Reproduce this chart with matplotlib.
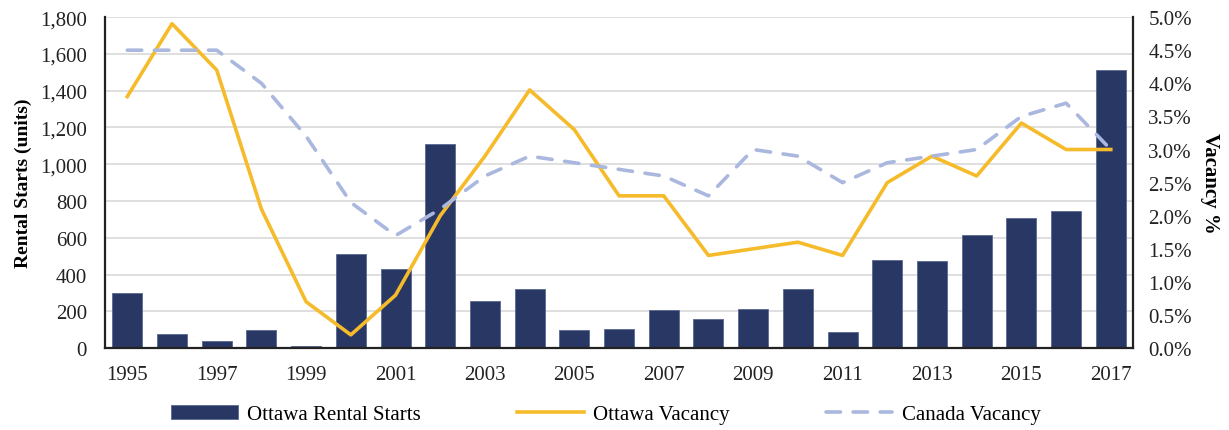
import numpy as np
import matplotlib.pyplot as plt
from matplotlib.ticker import FuncFormatter, MultipleLocator

plt.rcParams['font.family'] = ['Liberation Serif', 'DejaVu Serif']

# data
years = list(range(1995, 2018))
rental_starts = [300, 75, 40, 100, 10, 510, 430, 1110, 255, 320, 100, 105,
                 205, 160, 215, 320, 90, 480, 475, 615, 705, 745, 1510]
ottawa_vacancy = [3.8, 4.9, 4.2, 2.1, 0.7, 0.2, 0.8, 2.0, 2.9, 3.9, 3.3, 2.3,
                  2.3, 1.4, 1.5, 1.6, 1.4, 2.5, 2.9, 2.6, 3.4, 3.0, 3.0]
canada_vacancy = [4.5, 4.5, 4.5, 4.0, 3.2, 2.2, 1.7, 2.1, 2.6, 2.9, 2.8, 2.7,
                  2.6, 2.3, 3.0, 2.9, 2.5, 2.8, 2.9, 3.0, 3.5, 3.7, 3.0]
year_ticks = years[::2]

NAVY = '#293764'
GOLD = '#f5bb2b'
LIGHT = '#aab7de'

fig = plt.figure(figsize=(12.29, 4.31), dpi=100)
ax = fig.add_axes([0.0854, 0.19, 0.8366, 0.768])
ax2 = ax.twinx()

ax.bar(years, rental_starts, width=0.67, color=NAVY, edgecolor='#5a6890',
       linewidth=0.6, label='Ottawa Rental Starts', zorder=2)
ax2.plot(years, ottawa_vacancy, color=GOLD, lw=2.6, label='Ottawa Vacancy')
ax2.plot(years, canada_vacancy, color=LIGHT, lw=2.6, ls=(0, (4, 3.5)),
         dash_capstyle='round', label='Canada Vacancy')

ax.set_xlim(1994.5, 2017.5)
ax.set_ylim(0, 1800)
ax2.set_ylim(0, 5.0)
ax.yaxis.set_major_locator(MultipleLocator(200))
ax.yaxis.set_major_formatter(FuncFormatter(lambda v, p: f'{v:,.0f}'))
ax2.yaxis.set_major_locator(MultipleLocator(0.5))
ax2.yaxis.set_major_formatter(FuncFormatter(lambda v, p: f'{v:.1f}%'))
ax.set_xticks(year_ticks)

ax.grid(axis='y', color='#d9d9d9', lw=1.2, zorder=0)
ax.set_axisbelow(True)

for a in (ax, ax2):
    a.spines['top'].set_visible(False)
    a.tick_params(length=0, labelsize=15, colors='#222222')
ax.tick_params(axis='x', pad=12)
ax.tick_params(axis='y', pad=13)
ax2.tick_params(axis='y', pad=11)
ax.spines['right'].set_visible(False)
ax2.spines['left'].set_visible(False)
ax2.spines['bottom'].set_visible(False)
for s in ('left', 'bottom'):
    ax.spines[s].set_color('#222222')
    ax.spines[s].set_linewidth(1.6)
ax2.spines['right'].set_color('#222222')
ax2.spines['right'].set_linewidth(1.6)

ax.set_ylabel('Rental Starts (units)', fontsize=14, fontweight='bold', labelpad=6)
ax2.set_ylabel('Vacancy %', fontsize=15, fontweight='bold', rotation=270, labelpad=20)

h1, l1 = ax.get_legend_handles_labels()
h2, l2 = ax2.get_legend_handles_labels()
fig.legend(h1 + h2, l1 + l2, loc='lower center', bbox_to_anchor=(0.493, -0.03),
           ncol=3, frameon=False, fontsize=15, handlelength=3.2,
           columnspacing=4.6, handletextpad=0.45)

fig.savefig('out.png', dpi=100)
